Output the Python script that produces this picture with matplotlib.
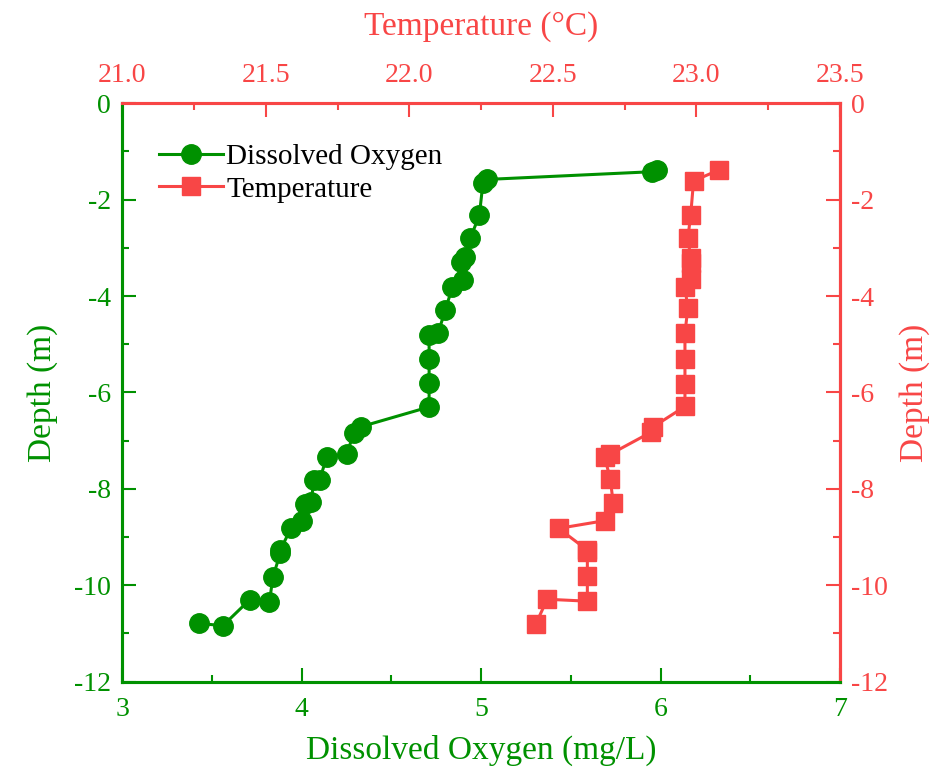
import matplotlib
matplotlib.use('Agg')
import matplotlib.pyplot as plt
from matplotlib.ticker import MultipleLocator, FormatStrFormatter

plt.rcParams['font.family'] = ['Liberation Serif', 'DejaVu Serif']
plt.rcParams['axes.unicode_minus'] = False

GREEN = '#009100'
RED = '#f84646'

# dissolved oxygen profile (mg/L) against depth (m)
doDepth = [-1.38, -1.42, -1.58, -1.66, -2.32, -2.80, -3.18, -3.29, -3.67, -3.81,
           -4.29, -4.77, -4.81, -5.31, -5.81, -6.30, -6.71, -6.85, -7.28, -7.33,
           -7.81, -7.82, -8.27, -8.31, -8.66, -8.82, -9.27, -9.34, -9.82, -10.34,
           -10.30, -10.84, -10.79]
doValues = [5.98, 5.95, 5.03, 5.01, 4.99, 4.94, 4.91, 4.89, 4.90, 4.84,
            4.80, 4.76, 4.71, 4.71, 4.71, 4.71, 4.33, 4.29, 4.25, 4.14,
            4.10, 4.07, 4.05, 4.02, 4.00, 3.94, 3.88, 3.88, 3.84, 3.82,
            3.71, 3.56, 3.43]

# temperature profile (deg C) against depth (m)
tempDepth = [-1.38, -1.61, -2.32, -2.80, -3.20, -3.31, -3.65, -3.82, -4.25, -4.77,
             -5.31, -5.82, -6.29, -6.71, -6.83, -7.28, -7.33, -7.80, -8.29, -8.66,
             -8.82, -9.27, -9.30, -9.81, -10.33, -10.29, -10.81]
tempValues = [23.08, 22.99, 22.98, 22.97, 22.98, 22.98, 22.98, 22.96, 22.97, 22.96,
              22.96, 22.96, 22.96, 22.85, 22.84, 22.70, 22.68, 22.70, 22.71, 22.68,
              22.52, 22.62, 22.62, 22.62, 22.62, 22.48, 22.44]

fig = plt.figure(figsize=(9.49, 7.82), dpi=100)
ax = fig.add_axes([0.1289, 0.1283, 0.7562, 0.7396])
ax2 = ax.twiny()

l1, = ax.plot(doValues, doDepth, '-o', color=GREEN, lw=2.2, ms=14, label='Dissolved Oxygen')
l2, = ax2.plot(tempValues, tempDepth, '-s', color=RED, lw=2.2, ms=12.5, label='Temperature')

ax.set_xlim(3, 7)
ax.set_ylim(-12, 0)
ax2.set_xlim(21.0, 23.5)

ax.xaxis.set_major_locator(MultipleLocator(1))
ax.xaxis.set_minor_locator(MultipleLocator(0.5))
ax.yaxis.set_major_locator(MultipleLocator(2))
ax.yaxis.set_minor_locator(MultipleLocator(1))
ax2.xaxis.set_major_locator(MultipleLocator(0.5))
ax2.xaxis.set_minor_locator(MultipleLocator(0.25))
ax2.xaxis.set_major_formatter(FormatStrFormatter('%.1f'))

# right-hand depth axis in red
sec = ax.secondary_yaxis('right')
sec.yaxis.set_major_locator(MultipleLocator(2))
sec.yaxis.set_minor_locator(MultipleLocator(1))
sec.set_ylabel('Depth (m)', fontsize=24, color=RED, labelpad=8)

for a in (ax, ax2):
    for s in a.spines.values():
        s.set_linewidth(2.2)
ax.spines['left'].set_color(GREEN)
ax.spines['bottom'].set_color(GREEN)
ax.spines['top'].set_color(RED)
ax.spines['right'].set_color(RED)
ax2.spines['top'].set_color(RED)
ax2.spines['right'].set_color(RED)
ax2.spines['left'].set_color(GREEN)
ax2.spines['bottom'].set_color(GREEN)
sec.spines['right'].set_color(RED)
sec.spines['right'].set_linewidth(2.2)

ax.tick_params(which='both', direction='in', colors=GREEN, labelsize=20, width=1.5)
ax.tick_params(axis='x', which='major', length=10, pad=11)
ax.tick_params(axis='y', which='major', length=10, pad=8)
ax.tick_params(which='minor', length=5)
ax2.tick_params(which='both', direction='in', colors=RED, labelsize=20, width=1.5)
ax2.tick_params(which='major', length=10, pad=11)
ax2.tick_params(which='minor', length=5)
sec.tick_params(which='both', direction='in', colors=RED, labelsize=20, width=1.5)
sec.tick_params(which='major', length=10, pad=8)
sec.tick_params(which='minor', length=5)

ax.set_xlabel('Dissolved Oxygen (mg/L)', fontsize=24, color=GREEN, labelpad=9)
ax.set_ylabel('Depth (m)', fontsize=24, color=GREEN, labelpad=12)
ax2.set_xlabel('Temperature (°C)', fontsize=24, color=RED, labelpad=20)

leg = ax.legend(handles=[l1, l2], loc='upper left', bbox_to_anchor=(0.035, 0.95),
                frameon=False, fontsize=21, handlelength=2.2, handletextpad=0.1,
                labelspacing=0.2, borderaxespad=0)

fig.savefig('out.png', dpi=100)
